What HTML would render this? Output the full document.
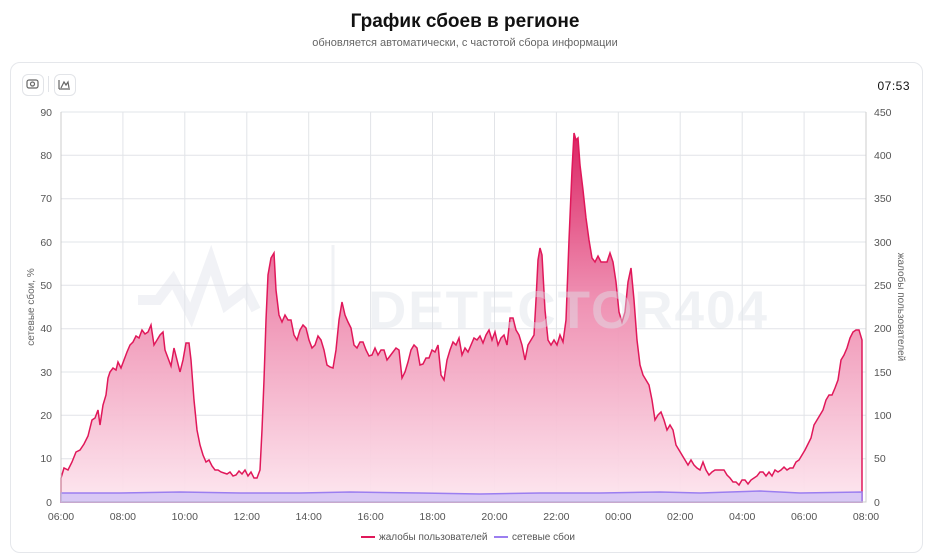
<!DOCTYPE html><html><head><meta charset="utf-8"><style>
body{margin:0;width:930px;height:560px;background:#fff;font-family:"Liberation Sans",sans-serif;overflow:hidden;position:relative}
.t{position:absolute;top:11px;width:930px;text-align:center;font-size:19px;font-weight:bold;color:#111}
.s{position:absolute;top:37px;width:930px;text-align:center;font-size:11px;color:#666}
.card{position:absolute;left:10px;top:62px;width:911px;height:489px;border:1px solid #e5e7eb;border-radius:10px}
.b{position:absolute;top:74px;width:20px;height:20px;border:1px solid #e2e4e8;border-radius:6px}
</style></head><body>
<div class="t">График сбоев в регионе</div>
<div class="s">обновляется автоматически, с частотой сбора информации</div>
<div class="card"></div>
<div class="b" style="left:22px"></div><div class="b" style="left:54px"></div>
<div style="position:absolute;left:48px;top:76px;width:1px;height:16px;background:#e2e4e8"></div>
<svg width="930" height="560" style="position:absolute;left:0;top:0">
<defs><linearGradient id="g" gradientUnits="userSpaceOnUse" x1="0" y1="130" x2="0" y2="502"><stop offset="0" stop-color="#d9175a"/><stop offset="0.45" stop-color="#ee8aae"/><stop offset="1" stop-color="#fde6ef"/></linearGradient></defs>
<g stroke="#666" fill="none" stroke-width="1.2"><rect x="27" y="80" width="11" height="8" rx="2"/><circle cx="32.5" cy="84" r="2"/><path d="M59 89V80M59 89H70M61 88l3-6 2 3 2-3 1 6"/></g>
<text x="910" y="90" font-size="12" text-anchor="end" fill="#111" letter-spacing="0.5">07:53</text>
<g stroke="#e2e4e8" stroke-width="1">
<path d="M61 112H866M61 155.3H866M61 198.7H866M61 242H866M61 285.3H866M61 328.7H866M61 372H866M61 415.3H866M61 458.7H866"/>
<path d="M122.9 112V502M184.8 112V502M246.8 112V502M308.7 112V502M370.6 112V502M432.5 112V502M494.5 112V502M556.4 112V502M618.3 112V502M680.2 112V502M742.2 112V502M804.1 112V502"/>
</g>
<path id="r" fill="url(#g)" fill-opacity="0.95" stroke="#e0185a" stroke-width="1.5" d="M61 502L61,478 64,468 68,470 72,462 76,452 80,450 84,444 88,436 92,420 95,418 98,410 100,425 103,405 106,395 108,378 110,372 113,368 116,370 118,362 121,368 124,360 127,352 130,345 133,342 136,336 139,338 142,330 145,334 148,332 151,325 154,345 157,340 160,335 163,332 165,350 168,358 171,366 174,348 177,360 180,372 183,360 186,343 189,343 191,360 194,400 197,430 200,445 203,455 206,462 209,460 212,466 215,470 218,470 221,472 224,473 227,474 230,472 233,476 236,475 239,471 242,474 245,470 248,476 251,472 254,478 257,478 260,470 262,430 264,380 266,320 268,275 271,258 274,253 276,290 279,315 282,322 285,315 288,320 291,320 294,335 297,340 300,330 303,325 306,328 309,340 312,348 315,345 318,336 321,340 324,350 327,365 330,367 333,368 336,350 339,320 342,302 345,315 348,322 351,328 354,345 357,348 360,342 363,342 366,350 369,356 372,355 375,348 378,355 381,350 384,350 387,360 390,356 393,352 396,348 399,350 402,378 405,372 408,362 411,350 414,345 417,348 420,365 423,364 426,358 429,358 432,350 435,352 438,345 441,375 444,380 447,360 450,350 453,342 456,345 459,338 462,355 465,348 468,352 471,345 474,338 477,340 480,336 483,343 486,335 489,330 492,340 495,332 498,345 501,338 504,335 507,345 510,318 513,318 516,330 519,335 522,345 525,360 528,345 531,340 534,335 536,300 538,260 540,248 542,255 545,310 548,340 551,345 554,340 557,345 560,335 563,342 566,320 569,240 572,170 574,133 576,140 578,138 580,165 583,190 586,218 589,240 592,258 595,262 598,256 601,262 604,262 607,262 610,253 613,262 616,282 619,312 622,322 625,312 628,282 631,268 634,300 637,340 640,365 643,375 646,380 649,385 652,400 655,420 658,415 661,412 664,420 667,430 670,425 673,430 676,445 679,450 682,455 685,460 688,465 691,460 694,465 697,468 700,470 703,462 706,470 709,475 712,472 715,470 718,470 721,470 724,470 727,475 730,478 733,482 736,482 739,485 742,480 745,480 748,484 751,480 754,478 757,476 760,472 763,472 766,476 769,472 772,476 775,470 778,472 781,470 784,467 787,470 790,468 793,468 796,462 799,460 802,455 805,450 808,444 811,438 814,425 817,420 820,415 823,410 826,400 829,395 832,395 835,388 838,380 841,360 844,355 847,348 850,338 853,332 856,330 859,330 862,340L862 502Z"/>
<g opacity="0.45"><text x="368" y="328" font-size="53" font-weight="bold" letter-spacing="2" fill="#dfe3ea">DETECTOR404</text>
<path d="M138 300l20 0 15-20 18 35 20-55 15 45 20-15 10 20" stroke="#dfe3ea" stroke-width="10" fill="none"/>
<path d="M333 245V330" stroke="#dfe3ea" stroke-width="3"/></g>
<path d="M61 493L120 493 180 492 240 493 300 493 350 492 420 493 480 494 540 493 600 493 660 492 700 493 760 491 800 493 862 492L862 502 61 502Z" fill="#d9c8f5" stroke="#9b7ef0" stroke-width="1.5"/>
<path d="M61 112V502H866V112" stroke="#ccc" fill="none"/>
<g font-size="10.5" fill="#555" text-anchor="end">
<text x="52" y="116">90</text><text x="52" y="159">80</text><text x="52" y="202">70</text><text x="52" y="246">60</text><text x="52" y="289">50</text><text x="52" y="332">40</text><text x="52" y="376">30</text><text x="52" y="419">20</text><text x="52" y="462">10</text><text x="52" y="506">0</text></g>
<g font-size="10.5" fill="#555">
<text x="874" y="116">450</text><text x="874" y="159">400</text><text x="874" y="202">350</text><text x="874" y="246">300</text><text x="874" y="289">250</text><text x="874" y="332">200</text><text x="874" y="376">150</text><text x="874" y="419">100</text><text x="874" y="462">50</text><text x="874" y="506">0</text></g>
<g font-size="10.5" fill="#555" text-anchor="middle">
<text x="61" y="520">06:00</text><text x="122.9" y="520">08:00</text><text x="184.8" y="520">10:00</text><text x="246.8" y="520">12:00</text><text x="308.7" y="520">14:00</text><text x="370.6" y="520">16:00</text><text x="432.5" y="520">18:00</text><text x="494.5" y="520">20:00</text><text x="556.4" y="520">22:00</text><text x="618.3" y="520">00:00</text><text x="680.2" y="520">02:00</text><text x="742.2" y="520">04:00</text><text x="804.1" y="520">06:00</text><text x="866" y="520">08:00</text></g>
<text transform="translate(34 307) rotate(-90)" font-size="10" fill="#666" text-anchor="middle">сетевые сбои, %</text>
<text transform="translate(898 307) rotate(90)" font-size="10" fill="#666" text-anchor="middle">жалобы пользователей</text>
<path d="M361 537H375" stroke="#e0185a" stroke-width="2"/><text x="379" y="540" font-size="10" fill="#555">жалобы пользователей</text>
<path d="M494 537H508" stroke="#9b7ef0" stroke-width="2"/><text x="512" y="540" font-size="10" fill="#555">сетевые сбои</text>
</svg></body></html>
